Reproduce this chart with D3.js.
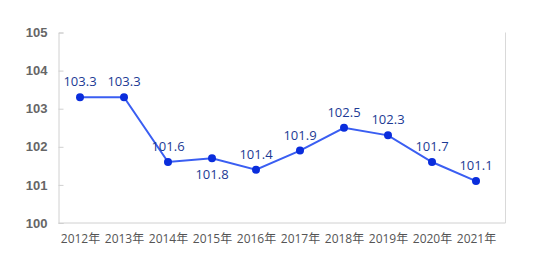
<!DOCTYPE html>
<html><head><meta charset="utf-8">
<script src="https://cdn.jsdelivr.net/npm/d3@7"></script>
<style>body{margin:0;background:#fff;}svg{display:block;}</style>
</head><body>
<script>
const categories = ["2012年","2013年","2014年","2015年","2016年","2017年","2018年","2019年","2020年","2021年"];
const values = [103.3,103.3,101.6,101.7,101.4,101.9,102.5,102.3,101.6,101.1];
const labels = ["103.3","103.3","101.6","101.8","101.4","101.9","102.5","102.3","101.7","101.1"];
const labelBelow = [false,false,false,true,false,false,false,false,false,false];
const yTicks = [100,101,102,103,104,105];

(function(){
const W=544,H=260;
const mL=58.5,mR=505.5,mT=32.5,mB=223;
const svg=d3.select("body").append("svg").attr("width",W).attr("height",H);
const x=d3.scalePoint().domain(categories).range([80,476]);
const y=d3.scaleLinear().domain([100,105]).range([mB,mT]);
const font="'Open Sans','Noto Sans CJK SC',sans-serif";

svg.append("line").attr("x1",mR).attr("x2",mR).attr("y1",mT).attr("y2",mB)
  .attr("stroke","#d9d9d9").attr("stroke-width",1);
const ya=svg.append("g").attr("transform",`translate(${mL},0)`)
  .call(d3.axisLeft(y).tickValues(yTicks).tickSize(-5).tickPadding(11).tickFormat(d3.format("d")));
ya.select(".domain").attr("stroke","#d0d0d0");
ya.selectAll(".tick line").attr("stroke","#d0d0d0");
ya.selectAll("text").attr("font-family","Arial,'Liberation Sans',sans-serif").attr("font-weight","bold")
  .attr("font-size",13).attr("fill","#666");
const xa=svg.append("g").attr("transform",`translate(0,${mB})`)
  .call(d3.axisBottom(x).tickSize(0).tickPadding(11));
xa.select(".domain").attr("d",`M${mL},0H${mR}`).attr("stroke","#d0d0d0");
xa.selectAll("text").attr("font-family",font).attr("font-size",12).attr("fill","#555");

svg.append("path").datum(values)
  .attr("d",d3.line().x((d,i)=>x(categories[i])).y(d=>y(d)))
  .attr("fill","none").attr("stroke","#3a5ef2").attr("stroke-width",2);
svg.selectAll("circle.pt").data(values).join("circle").attr("class","pt")
  .attr("cx",(d,i)=>x(categories[i])).attr("cy",d=>y(d)).attr("r",4).attr("fill","#0a2ddc");
svg.selectAll("text.lab").data(labels).join("text").attr("class","lab")
  .attr("x",(d,i)=>x(categories[i]))
  .attr("y",(d,i)=>y(values[i])+(labelBelow[i]?21:-11))
  .attr("text-anchor","middle").attr("font-family",font).attr("font-size",13)
  .attr("fill","#1c3a94").text(d=>d);
})();
</script>
</body></html>
